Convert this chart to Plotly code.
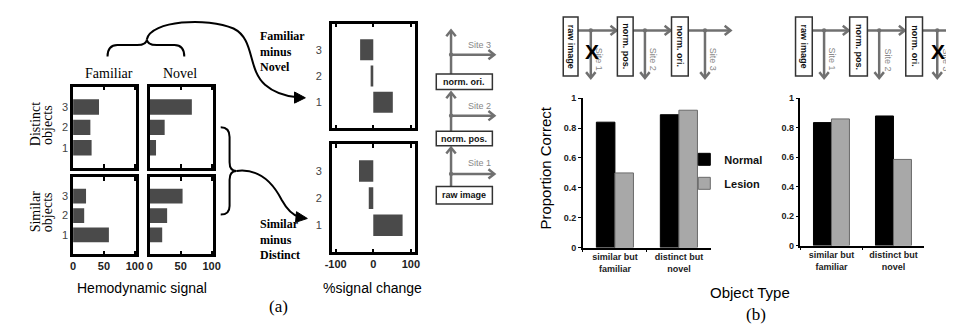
import plotly.graph_objects as go

W, H = 954, 325

# ---------------- data ----------------
sites = [1, 2, 3]
site_ticktext = ["1", "2", "3"]
# (a) hemodynamic signal, per site 1..3
fam_distinct = [30, 28, 42]
nov_distinct = [10, 24, 68]
fam_similar = [58, 18, 21]
nov_similar = [20, 28, 53]
# (a) % signal change, per site 1..3
fam_minus_nov = [52, -7, -35]
sim_minus_dist = [78, -12, -38]
hemo_ticks = [0, 50, 100]
change_ticks = [-100, 0, 100]
change_ticktext = ["-100", "0", "100"]
# (b) proportion correct
object_types = ["similar but<br>familiar", "distinct but<br>novel"]
site1_normal = [0.84, 0.89]
site1_lesion = [0.50, 0.92]
site3_normal = [0.835, 0.88]
site3_lesion = [0.86, 0.585]
prop_ticks = [0, 0.2, 0.4, 0.6, 0.8, 1]
prop_ticktext = ["0", "0.2", "0.4", "0.6", "0.8", "1"]

SANS = "Liberation Sans, Arial, sans-serif"
SERIF = "Liberation Serif, Times New Roman, serif"
DARK = "#4a4a4a"
ARROW = "#707070"


def xd(a, b):
    return [a / W, b / W]


def yd(top, bottom):
    return [1 - bottom / H, 1 - top / H]


fig = go.Figure()

# ---- (a) hemodynamic bars ----
for vals, ax in [(fam_distinct, ""), (nov_distinct, "2"), (fam_similar, "3"), (nov_similar, "4")]:
    fig.add_trace(go.Bar(y=sites, x=vals, orientation="h", width=0.76, marker=dict(color=DARK, line=dict(width=0)),
                         xaxis="x" + ax, yaxis="y" + ax, showlegend=False, hoverinfo="skip"))
# ---- (a) difference bars ----
for vals, ax in [(fam_minus_nov, "5"), (sim_minus_dist, "6")]:
    fig.add_trace(go.Bar(y=sites, x=vals, orientation="h", width=0.8, marker=dict(color=DARK, line=dict(width=0)),
                         xaxis="x" + ax, yaxis="y" + ax, showlegend=False, hoverinfo="skip"))
# ---- (b) lesion bars ----
for nvals, lvals, ax, leg in [(site1_normal, site1_lesion, "7", True), (site3_normal, site3_lesion, "8", False)]:
    fig.add_trace(go.Bar(x=object_types, y=nvals, name="Normal", marker=dict(color="black", line=dict(color="black", width=1)),
                         xaxis="x" + ax, yaxis="y" + ax, showlegend=leg, legendgroup="n"))
    fig.add_trace(go.Bar(x=object_types, y=lvals, name="Lesion", marker=dict(color="#a8a8a8", line=dict(color="#6a6a6a", width=1)),
                         xaxis="x" + ax, yaxis="y" + ax, showlegend=leg, legendgroup="l"))


def box_x(dom, anchor, labels, rng, tv, tt=None):
    d = dict(domain=dom, anchor=anchor, range=rng, tickvals=tv, showticklabels=labels, ticks="inside", ticklen=4,
             tickwidth=1.5, tickcolor="black", mirror="allticks", showline=True, linecolor="black", linewidth=2.5,
             showgrid=False, zeroline=False, fixedrange=True,
             tickfont=dict(family=SANS, size=11, weight="bold", color="#222"))
    if tt:
        d["ticktext"] = tt
    return d


def box_y(dom, anchor, labels, standoff=0):
    return dict(domain=dom, anchor=anchor, range=[0, 4], tickvals=sites, ticktext=site_ticktext, showticklabels=labels,
                ticks="", showline=True, mirror=True, linecolor="black", linewidth=2.5, showgrid=False, zeroline=False,
                fixedrange=True, ticklabelstandoff=standoff, tickfont=dict(family=SANS, size=11, color="#444"))


def bar_x(dom, anchor):
    return dict(domain=dom, anchor=anchor, type="category", range=[-0.5, 1.5], showline=True, linecolor="black",
                linewidth=1.5, ticks="outside", tickson="boundaries", ticklen=3, tickcolor="black", showgrid=False,
                zeroline=False, fixedrange=True, tickfont=dict(family=SANS, size=9, weight="bold", color="#222"))


def bar_y(dom, anchor):
    return dict(domain=dom, anchor=anchor, range=[0, 1], tickvals=prop_ticks, ticktext=prop_ticktext, showline=True,
                linecolor="black", linewidth=1.5, ticks="outside", ticklen=3, tickcolor="black", showgrid=False,
                zeroline=False, fixedrange=True, tickfont=dict(family=SANS, size=9, weight="bold", color="#222"))


layout = dict(
    width=W, height=H, margin=dict(l=0, r=0, t=0, b=0), plot_bgcolor="white", paper_bgcolor="white",
    barmode="group", bargap=0.42, bargroupgap=0,
    xaxis=box_x(xd(59, 123), "y", False, [0, 102], hemo_ticks),
    yaxis=box_y(yd(76, 160), "x", True),
    xaxis2=box_x(xd(137, 201), "y2", False, [0, 102], hemo_ticks),
    yaxis2=box_y(yd(76, 160), "x2", False),
    xaxis3=box_x(xd(59, 123), "y3", True, [0, 102], hemo_ticks),
    yaxis3=box_y(yd(169, 249), "x3", True),
    xaxis4=box_x(xd(137, 201), "y4", True, [0, 102], hemo_ticks),
    yaxis4=box_y(yd(169, 249), "x4", False),
    xaxis5=box_x(xd(322, 406), "y5", False, [-110, 110], change_ticks, change_ticktext),
    yaxis5=box_y(yd(11, 119), "x5", True, 5),
    xaxis6=box_x(xd(322, 406), "y6", True, [-110, 110], change_ticks, change_ticktext),
    yaxis6=box_y(yd(135, 247), "x6", True, 5),
    xaxis7=bar_x(xd(577, 707), "y7"),
    yaxis7=bar_y(yd(88, 242), "x7"),
    xaxis8=bar_x(xd(798, 924), "y8"),
    yaxis8=bar_y(yd(88, 240), "x8"),
    legend=dict(x=680 / W, y=1 - 136 / H, xanchor="left", yanchor="top", bgcolor="rgba(0,0,0,0)",
                font=dict(family=SANS, size=11, weight="bold", color="#111"), tracegroupgap=5, itemwidth=30),
    showlegend=True,
)

# ---------------- decorations (pixel coords -> paper) ----------------
shapes = []


def path_px(d):
    toks = d.replace(",", " ").split()
    out = []
    is_x = True
    for t in toks:
        if t.isalpha():
            out.append(t)
            is_x = True
        else:
            v = float(t)
            if is_x:
                out.append(f"{v / W:.5f},")
            else:
                out[-1] += f"{1 - v / H:.5f}"
            is_x = not is_x
    return " ".join(out)


def add_path(d, color, width=1.5, fill=None):
    shapes.append(dict(type="path", path=path_px(d), xref="paper", yref="paper",
                       line=dict(color=color, width=width), fillcolor=fill or "rgba(0,0,0,0)"))


def add_rect(x0, y0, x1, y1, color="#333", width=1.5):
    shapes.append(dict(type="rect", xref="paper", yref="paper", x0=x0 / W, x1=x1 / W, y0=1 - y1 / H, y1=1 - y0 / H,
                       line=dict(color=color, width=width), fillcolor="white"))


def add_line(x0, y0, x1, y1, color=ARROW, width=2.5):
    shapes.append(dict(type="line", xref="paper", yref="paper", x0=x0 / W, x1=x1 / W, y0=1 - y0 / H, y1=1 - y1 / H,
                       line=dict(color=color, width=width)))


def add_dot(x, y, r=2.2, color=ARROW):
    shapes.append(dict(type="circle", xref="paper", yref="paper", x0=(x - r) / W, x1=(x + r) / W,
                       y0=1 - (y + r) / H, y1=1 - (y - r) / H, line=dict(width=0), fillcolor=color))


def chevron(tx, ty, direction, size=6, color=ARROW, width=2.5):
    dx, dy = {"r": (1, 0), "l": (-1, 0), "u": (0, -1), "d": (0, 1)}[direction]
    px, py = -dy, dx
    a = (tx - dx * size + px * size * 0.8, ty - dy * size + py * size * 0.8)
    b = (tx - dx * size - px * size * 0.8, ty - dy * size - py * size * 0.8)
    add_path(f"M {a[0]},{a[1]} L {tx},{ty} L {b[0]},{b[1]}", color, width)


annotations = []


def text(x, y, s, size=11, family=SANS, color="black", weight="normal", angle=0, xanchor="center", align="center"):
    annotations.append(dict(x=x / W, y=1 - y / H, xref="paper", yref="paper", text=s, showarrow=False,
                            xanchor=xanchor, yanchor="middle", textangle=angle, align=align,
                            font=dict(size=size, family=family, color=color, weight=weight)))


# braces and curved arrows of (a)
add_path("M 94,45 Q 94,33 104,33 L 124,33 Q 134,33 134,27 Q 134,33 144,33 L 162,33 Q 172,33 172,45", "black", 2)
add_path("M 134,27 C 138,8 195,4 222,16 C 244,27 236,58 254,74 C 264,83 277,86 287,87", "black", 2)
add_path("M 284,81.5 L 295,87.5 L 284,93 Z", "black", 1, "black")
add_path("M 209,118 Q 218,118 218,128 L 218,154 Q 218,163 225,163 Q 218,163 218,172 L 218,199 Q 218,208 209,208",
         "black", 2)
add_path("M 225,163 C 248,160 262,175 271,193 C 277,204 283,209 289,210.5", "black", 2)
add_path("M 286,205 L 297,212 L 285,216 Z", "black", 1, "black")

# processing diagram of (a)
VX = 443
for y0, y1 in [(179, 139), (122, 82), (63, 18)]:
    add_line(VX, y0, VX, y1 + 1)
    chevron(VX, y1, "u")
for y in [166, 106, 43]:
    add_line(VX, y, 486, y)
    chevron(487, y, "r")
    add_dot(VX, y)
for (y0, y1, lab) in [(63, 79, "norm. ori."), (122, 137, "norm. pos."), (179, 197, "raw image")]:
    add_rect(428, y0, 485, y1)
    text(456.5, (y0 + y1) / 2, lab, size=9, weight="bold", color="#111")
for y, lab in [(155, "Site 1"), (96, "Site 2"), (33, "Site 3")]:
    text(472, y, lab, size=9, color="#888")

# processing diagrams of (b)
for boxes, arrows, xmark in [
    ([(557, 572), (612, 628), (667, 684)], [585, 640, 701], 585),
    ([(793, 810), (848, 866), (905, 922)], [822, 878, 937], 937),
]:
    ends = [b[1] for b in boxes]
    starts = [b[0] for b in boxes[1:]] + [boxes[-1][1] + 44]
    for e, s in zip(ends, starts):
        add_line(e, 18, s - 1, 18)
        chevron(s - 1, 18, "r")
    for (bx0, bx1), lab in zip(boxes, ["raw image", "norm. pos.", "norm. ori."]):
        add_rect(bx0, 4, bx1, 65)
        text((bx0 + bx1) / 2, 34.5, lab, size=9, weight="bold", color="#111", angle=90)
    for ax_, lab in zip(arrows, ["Site 1", "Site 2", "Site 3"]):
        add_line(ax_, 18, ax_, 66)
        chevron(ax_, 67, "d")
        add_dot(ax_, 18)
        text(ax_ + 9, 48, lab, size=9, color="#888", angle=90)
    text(xmark + 1, 40, "X", size=21, weight="bold", color="black")

# text labels of (a)
text(95, 62, "Familiar", size=14, family=SERIF)
text(168, 62, "Novel", size=14, family=SERIF)
text(21, 115, "Distinct", size=14, family=SERIF, angle=-90)
text(33, 115, "objects", size=14, family=SERIF, angle=-90)
text(21, 205, "Similar", size=14, family=SERIF, angle=-90)
text(33, 205, "objects", size=14, family=SERIF, angle=-90)
text(129, 284, "Hemodynamic signal", size=14)
text(363, 284, "%signal change", size=14)
text(247, 40, "Familiar<br>minus<br>Novel", size=12, family=SERIF, weight="bold", xanchor="left", align="left")
text(247, 234, "Similar<br>minus<br>Distinct", size=12, family=SERIF, weight="bold", xanchor="left", align="left")
text(268, 303, "(a)", size=17, family=SERIF)
# text labels of (b)
text(539, 160, "Proportion Correct", size=15, angle=-90)
text(747, 288, "Object Type", size=15)
text(753, 311, "(b)", size=17, family=SERIF)

layout["shapes"] = shapes
layout["annotations"] = annotations
fig.update_layout(**layout)
fig.write_html("out.html")
